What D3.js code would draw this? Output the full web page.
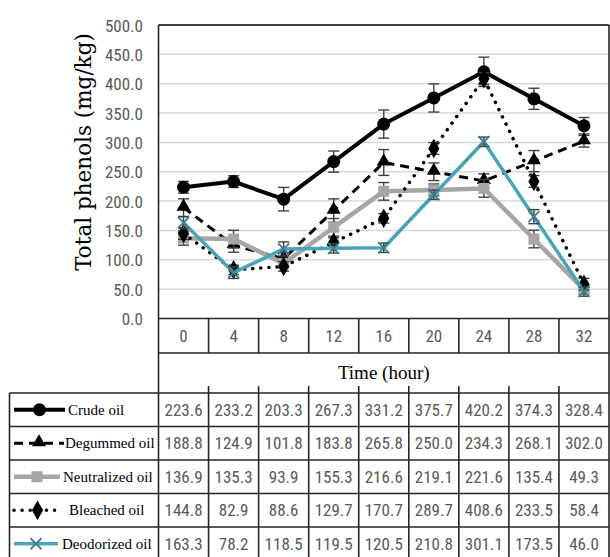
<!DOCTYPE html>
<html>
<head>
<meta charset="utf-8">
<script src="https://cdn.jsdelivr.net/npm/d3@7"></script>
<style>
  html, body { margin: 0; padding: 0; background: #fff; }
  svg { display: block; }
</style>
</head>
<body>
<script>
// Sampling times (hours)
const times = [0, 4, 8, 12, 16, 20, 24, 28, 32];

// Series names
const seriesNames = ["Crude oil", "Degummed oil", "Neutralized oil", "Bleached oil", "Deodorized oil"];

// Total phenols (mg/kg) per series
const crude       = [223.6, 233.2, 203.3, 267.3, 331.2, 375.7, 420.2, 374.3, 328.4];
const degummed    = [188.8, 124.9, 101.8, 183.8, 265.8, 250.0, 234.3, 268.1, 302.0];
const neutralized = [136.9, 135.3,  93.9, 155.3, 216.6, 219.1, 221.6, 135.4,  49.3];
const bleached    = [144.8,  82.9,  88.6, 129.7, 170.7, 289.7, 408.6, 233.5,  58.4];
const deodorized  = [163.3,  78.2, 118.5, 119.5, 120.5, 210.8, 301.1, 173.5,  46.0];

// Error bar half-widths (mg/kg)
const crudeErr       = [10, 10, 20, 18, 24, 24, 25, 18, 14];
const degummedErr    = [15, 12, 10, 20, 22, 15, 12, 18, 10];
const neutralizedErr = [12, 15,  8, 15, 15, 10, 15, 15,  6];
const bleachedErr    = [10,  8,  8,  8,  8, 10, 10, 10, 10];
const deodorizedErr  = [10, 10, 12,  8,  8,  8,  8, 12,  8];

// Y axis ticks
const yTicks = [0, 50, 100, 150, 200, 250, 300, 350, 400, 450, 500];

const allValues = [crude, degummed, neutralized, bleached, deodorized];
const allErrors = [crudeErr, degummedErr, neutralizedErr, bleachedErr, deodorizedErr];

// Drawing styles per series
const styles = [
  { stroke: "#000", width: 4,   dash: null,     cap: "butt",  marker: "circle",   fill: "#000",    legendEnd: 65, labelX: 68 },
  { stroke: "#000", width: 3,   dash: "9,6",    cap: "butt",  marker: "triangle", fill: "#000",    legendEnd: 64, labelX: 65 },
  { stroke: "#a6a6a6", width: 4.5, dash: null,  cap: "butt",  marker: "square",   fill: "#a6a6a6", legendEnd: 60, labelX: 63 },
  { stroke: "#000", width: 3.5, dash: "0.1,8",  cap: "round", marker: "diamond",  fill: "#000",    legendEnd: 61, labelX: 69 },
  { stroke: "#4aa3b8", width: 3.5, dash: null,  cap: "butt",  marker: "cross",    fill: "none",    legendEnd: 58, labelX: 62 }
];

const NUM_FONT = "'Roboto Condensed'";
const SERIF_FONT = "'Liberation Serif'";

const W = 610, H = 557;
const plotL = 158.5, plotR = 609, plotT = 25, plotB = 318.5;
const headB = 353, timeB = 393, tableB = 560.5, legL = 9.5;

const svg = d3.select("body").append("svg").attr("width", W).attr("height", H);

const x = d3.scaleBand().domain(times).range([plotL, plotR]).padding(0);
const cx = t => x(t) + x.bandwidth() / 2;
const y = d3.scaleLinear().domain([0, 500]).range([plotB, plotT]);
const rows = d3.scaleBand().domain(seriesNames).range([timeB, tableB]);

function numText(sel) {
  return sel.style("font-family", NUM_FONT).style("font-size", "17px").style("fill", "#595959");
}
function serifText(sel, size) {
  return sel.style("font-family", SERIF_FONT).style("font-size", size + "px").style("fill", "#000");
}

// Gridlines
svg.append("g").selectAll("line").data(yTicks.filter(v => v > 0 && v < 500)).join("line")
  .attr("x1", plotL).attr("x2", plotR)
  .attr("y1", d => y(d)).attr("y2", d => y(d))
  .attr("stroke", "#d9d9d9").attr("stroke-width", 1.5);

// Y axis labels
const yAxis = d3.axisLeft(y).tickValues(yTicks).tickFormat(d3.format(".1f")).tickSize(0).tickPadding(0);
const yg = svg.append("g").attr("transform", `translate(143,0)`).call(yAxis);
yg.select(".domain").remove();
yg.attr("font-family", null).attr("font-size", null);
numText(yg.selectAll("text")).attr("fill", null).attr("dy", "0.36em");

// Y axis title
svg.append("text")
  .attr("transform", "translate(91,152) rotate(-90)")
  .attr("text-anchor", "middle")
  .style("font-family", "'DejaVu Serif'").style("font-size", "21.5px").style("fill", "#000")
  .text("Total phenols (mg/kg)");

// Frame and table lines
const lineCol = "#262626";
const frame = svg.append("g").attr("stroke", lineCol).attr("stroke-width", 1.6);
frame.append("line").attr("x1", plotL).attr("x2", plotR).attr("y1", plotT).attr("y2", plotT).attr("stroke", "#404040").attr("stroke-width", 2);
frame.append("line").attr("x1", plotL).attr("x2", plotL).attr("y1", plotT).attr("y2", tableB);
frame.append("line").attr("x1", plotR).attr("x2", plotR).attr("y1", plotT).attr("y2", tableB);
frame.append("line").attr("x1", plotL).attr("x2", plotR).attr("y1", plotB).attr("y2", plotB);
frame.append("line").attr("x1", plotL).attr("x2", plotR).attr("y1", headB).attr("y2", headB);
frame.append("line").attr("x1", legL).attr("x2", legL).attr("y1", timeB).attr("y2", tableB);
seriesNames.forEach(n => {
  frame.append("line").attr("x1", legL).attr("x2", plotR).attr("y1", rows(n)).attr("y2", rows(n));
});
// Column dividers
times.slice(1).forEach(t => {
  const xx = x(t);
  frame.append("line").attr("x1", xx).attr("x2", xx).attr("y1", plotB).attr("y2", headB);
  frame.append("line").attr("x1", xx).attr("x2", xx).attr("y1", timeB - 7).attr("y2", tableB);
});

// Header labels
numText(svg.append("g").selectAll("text").data(times).join("text"))
  .attr("x", d => cx(d)).attr("y", (plotB + headB) / 2)
  .attr("text-anchor", "middle").attr("dy", "0.36em").text(d => d);

serifText(svg.append("text"), 19)
  .attr("x", (plotL + plotR) / 2).attr("y", (headB + timeB) / 2 - 1)
  .attr("text-anchor", "middle").attr("dy", "0.35em")
  .text("Time (hour)");

// Marker drawing
function marker(g, type, col) {
  if (type === "circle") {
    g.append("circle").attr("r", 6.5).attr("fill", col);
  } else if (type === "triangle") {
    g.append("path").attr("d", d3.symbol(d3.symbolTriangle, 85)()).attr("fill", col).attr("transform", "translate(0,-1)");
  } else if (type === "square") {
    g.append("rect").attr("x", -5.5).attr("y", -5.5).attr("width", 11).attr("height", 11).attr("fill", col);
  } else if (type === "diamond") {
    g.append("path").attr("d", d3.symbol(d3.symbolDiamond, 110)()).attr("fill", col);
  } else if (type === "cross") {
    g.append("path").attr("d", "M-5.5,-5.5L5.5,5.5M5.5,-5.5L-5.5,5.5")
      .attr("stroke", "#3f7f8d").attr("stroke-width", 1.8).attr("fill", "none");
  }
}

// Series lines, error bars and markers
const line = d3.line().x((d, i) => cx(times[i])).y(d => y(d));
allValues.forEach((vals, si) => {
  const st = styles[si];
  const g = svg.append("g");
  g.append("path").datum(vals).attr("d", line)
    .attr("fill", "none").attr("stroke", st.stroke).attr("stroke-width", st.width)
    .attr("stroke-dasharray", st.dash).attr("stroke-linecap", st.cap).attr("stroke-linejoin", "round");
  const errs = allErrors[si];
  const eb = g.append("g").attr("stroke", "#404040").attr("stroke-width", 1.4);
  vals.forEach((v, i) => {
    const xx = cx(times[i]);
    eb.append("line").attr("x1", xx).attr("x2", xx).attr("y1", y(v - errs[i])).attr("y2", y(v + errs[i]));
    [v - errs[i], v + errs[i]].forEach(e => {
      eb.append("line").attr("x1", xx - 5.5).attr("x2", xx + 5.5).attr("y1", y(e)).attr("y2", y(e));
    });
  });
  vals.forEach((v, i) => {
    marker(g.append("g").attr("transform", `translate(${cx(times[i])},${y(v)})`), st.marker, st.fill);
  });
});

// Data table rows with legend keys
seriesNames.forEach((name, si) => {
  const st = styles[si];
  const cy = rows(name) + rows.bandwidth() / 2;
  svg.append("line").attr("x1", 14).attr("x2", st.legendEnd).attr("y1", cy).attr("y2", cy)
    .attr("stroke", st.stroke).attr("stroke-width", st.width)
    .attr("stroke-dasharray", st.dash).attr("stroke-linecap", st.cap);
  marker(svg.append("g").attr("transform", `translate(${(14 + st.legendEnd) / 2},${cy})`), st.marker, st.fill);
  serifText(svg.append("text"), 15).attr("x", st.labelX).attr("y", cy)
    .attr("dy", "0.32em").text(name);
  numText(svg.append("g").selectAll("text").data(allValues[si]).join("text"))
    .attr("x", (d, i) => cx(times[i])).attr("y", cy)
    .attr("text-anchor", "middle").attr("dy", "0.36em")
    .text(d => d3.format(".1f")(d));
});
</script>
</body>
</html>
